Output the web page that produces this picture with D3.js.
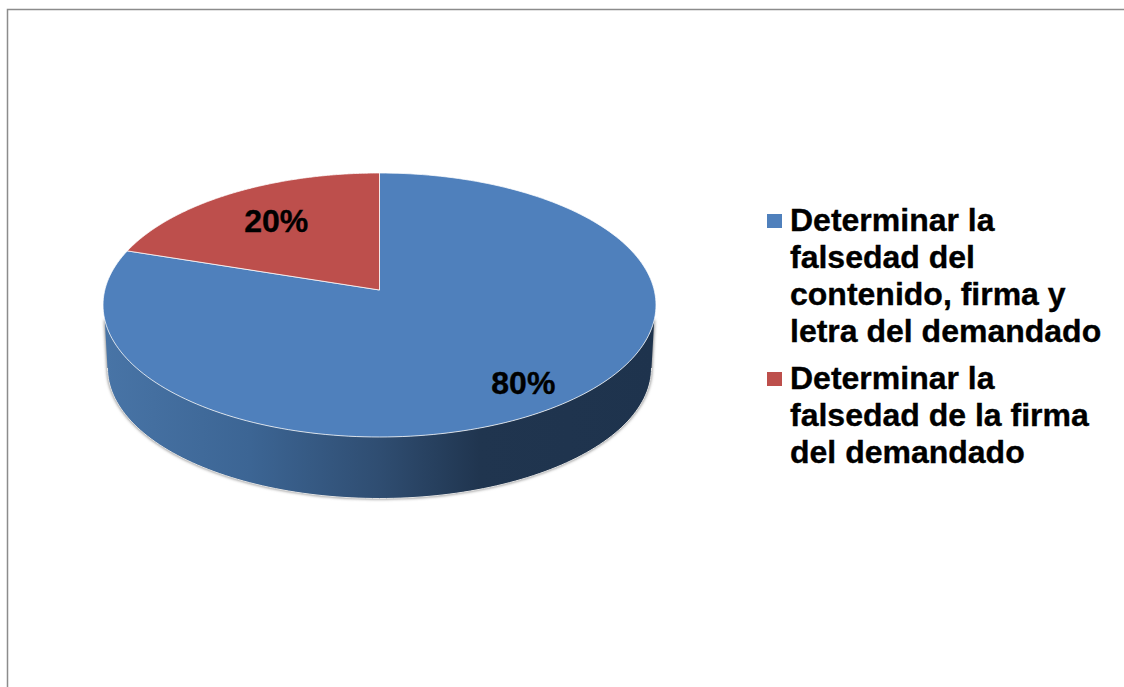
<!DOCTYPE html>
<meta charset="utf-8">
<style>
body { margin: 0; background: #fff; }
svg { display: block; }
text { font-family: "Liberation Sans", Arial, sans-serif; font-weight: bold; fill: #000; stroke: #000; stroke-width: .35px; }
</style>
<body>
<svg width="1124" height="687"></svg>
<script src="https://cdn.jsdelivr.net/npm/d3@7"></script>
<script>

var shares = [80, 20];
var shareLabels = ["80%", "20%"];
var sliceColors = ["#4f80bc", "#bd4f4c"];
var legendLines = [
  ["Determinar la", "falsedad del", "contenido, firma y", "letra del demandado"],
  ["Determinar la", "falsedad de la firma", "del demandado"]
];

var svg = d3.select("svg"),
    width = +svg.attr("width"),
    height = +svg.attr("height");

// top ellipse, the apex sits above its centre because of the perspective
var cx = 379.5, cy = 305, rx = 276.5, ry = 132, apexY = 290;
// bottom ellipse of the disc is a bit narrower
var cyLow = 368, rxLow = 272, ryLow = 130.5, edgeY = 320;

function rim(angle) {
  var ax = (apexY - cy) / ry,
      dx = Math.sin(angle), dy = -Math.cos(angle),
      b = ax * dy,
      t = -b + Math.sqrt(b * b - (ax * ax - 1));
  return [cx + t * dx * rx, cy + (ax + t * dy) * ry];
}

function inner(angle, r) {
  return [cx + Math.sin(angle) * rx * r, apexY - Math.cos(angle) * ry * r];
}

function ellipsePoints(x0, y0, a, b, from, to) {
  // parameter 0 = right, PI/2 = bottom, PI = left
  return d3.range(0, 121).map(function(i) {
    var p = from + (to - from) * i / 120;
    return [x0 + Math.cos(p) * a, y0 + Math.sin(p) * b];
  });
}

var line = d3.line();
var pie = d3.pie().sort(null);
var slices = pie(shares);

var defs = svg.append("defs");

defs.append("filter")
    .attr("id", "soft")
    .attr("x", "-5%").attr("y", "-5%").attr("width", "110%").attr("height", "110%")
  .append("feGaussianBlur")
    .attr("stdDeviation", 1.6);

var sideColor = d3.scaleLinear()
    .domain([105, 250, 380, 480, 655])
    .range(["#4874a6", "#3c6594", "#2f4d71", "#20354f", "#1e334d"]);

var grad = defs.append("linearGradient")
    .attr("id", "side")
    .attr("gradientUnits", "userSpaceOnUse")
    .attr("x1", 105).attr("x2", 655)
    .attr("y1", 0).attr("y2", 0);

grad.selectAll("stop")
    .data(sideColor.domain())
  .enter().append("stop")
    .attr("offset", function(d) { return (d - 105) / 550; })
    .attr("stop-color", function(d) { return sideColor(d); });

// frame, runs off the picture on the right and at the bottom
svg.append("path")
    .attr("d", "M7.5," + height + "V9.5H" + width)
    .attr("fill", "none")
    .attr("stroke", "#8c8c8c")
    .attr("stroke-width", 1.5);

// side of the disc
var edgeAngle = Math.asin((edgeY - cy) / ry);
var sidePoints = ellipsePoints(cx, cy, rx, ry, edgeAngle, Math.PI - edgeAngle)
    .concat(ellipsePoints(cx, cyLow, rxLow, ryLow, Math.PI, 0));

svg.append("path")
    .attr("d", line(sidePoints) + "Z")
    .attr("fill", "#8a8a8a")
    .attr("stroke", "#8a8a8a")
    .attr("stroke-width", 1.5)
    .attr("filter", "url(#soft)");

svg.append("path")
    .attr("d", line(sidePoints) + "Z")
    .attr("fill", "url(#side)");

svg.append("path")
    .attr("d", line(ellipsePoints(cx, cyLow, rxLow, ryLow, 0, Math.PI)))
    .attr("fill", "none")
    .attr("stroke", "#e4e4e4")
    .attr("stroke-width", 1);

// top face
svg.append("g")
  .selectAll("path")
  .data(slices)
  .enter().append("path")
    .attr("d", function(d) {
      var pts = d3.range(0, 201).map(function(i) {
        return rim(d.startAngle + (d.endAngle - d.startAngle) * i / 200);
      });
      return line([[cx, apexY]].concat(pts)) + "Z";
    })
    .attr("fill", function(d, i) { return sliceColors[i]; })
    .attr("stroke", "#fff")
    .attr("stroke-opacity", 0.75)
    .attr("stroke-width", 1)
    .attr("stroke-linejoin", "round");

// value labels
var labelRadius = [0.885, 0.635];

svg.append("g")
  .selectAll("text")
  .data(slices)
  .enter().append("text")
    .attr("x", function(d, i) { return inner((d.startAngle + d.endAngle) / 2, labelRadius[i])[0]; })
    .attr("y", function(d, i) { return inner((d.startAngle + d.endAngle) / 2, labelRadius[i])[1]; })
    .attr("dy", ".31em")
    .attr("text-anchor", "middle")
    .attr("font-size", 32)
    .text(function(d, i) { return shareLabels[i]; });

// legend
var lineStep = 37, firstBaseline = 231, entryGap = 10, textX = 790;
var legend = svg.append("g");
var row = 0;

legendLines.forEach(function(lines, k) {
  var top = firstBaseline + row * lineStep + k * entryGap;
  legend.append("rect")
      .attr("x", 767)
      .attr("y", top - 17)
      .attr("width", 15)
      .attr("height", 14)
      .attr("fill", sliceColors[k]);
  lines.forEach(function(t, i) {
    legend.append("text")
        .attr("x", textX)
        .attr("y", top + i * lineStep)
        .attr("font-size", 32)
        .text(t);
  });
  row += lines.length;
});

</script>
</body>
